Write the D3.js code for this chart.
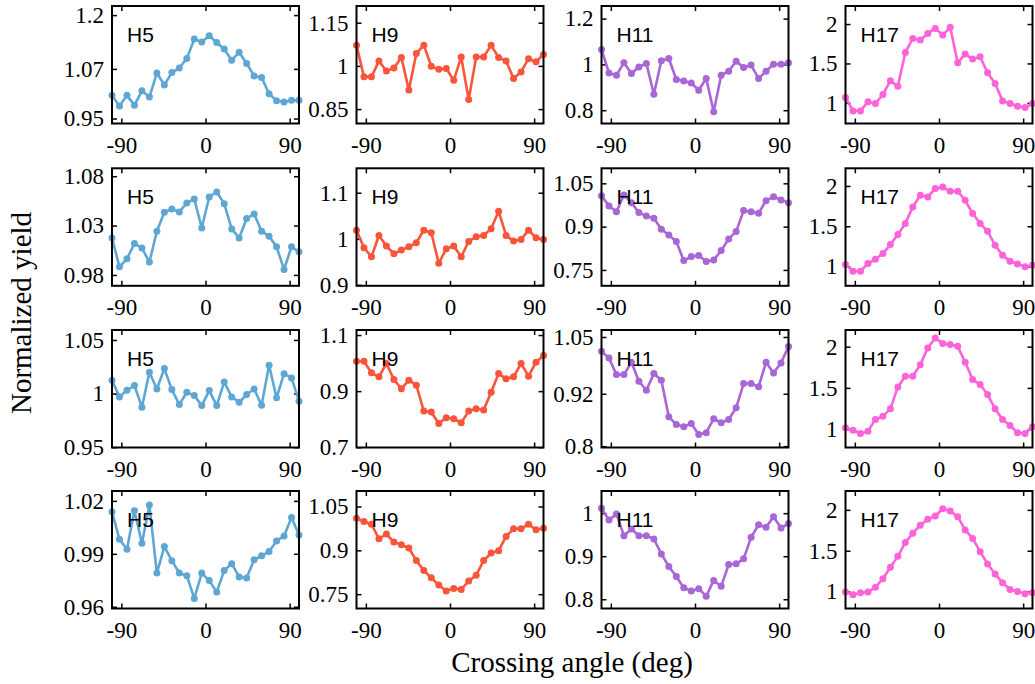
<!DOCTYPE html>
<html>
<head>
<meta charset="utf-8">
<script src="https://cdn.jsdelivr.net/npm/d3@7"></script>
<style>
  html, body { margin: 0; padding: 0; background: #fff; }
  svg { display: block; }
</style>
</head>
<body>
<svg id="chart" width="1035" height="684"></svg>
<script>
// ---------- DATA ----------
const angles = [-100,-92,-84,-76,-68,-60,-52,-44,-36,-28,-20,-12,-4,4,12,20,28,36,44,52,60,68,76,84,92,100];
const xTicks = [-90, 0, 90];
const harmonics = ["H5", "H9", "H11", "H17"];
const colors = ["#5ea7d5", "#fa553b", "#a866d6", "#ff63da"];

// Row 1
const h5_r1  = [1.006,0.980,1.006,0.982,1.017,1.002,1.060,1.031,1.061,1.072,1.095,1.142,1.135,1.150,1.134,1.118,1.091,1.110,1.083,1.053,1.049,1.010,0.993,0.990,0.994,0.994];
const h9_r1  = [1.072,0.962,0.962,1.017,0.982,0.993,1.029,0.916,1.043,1.072,0.999,0.988,0.991,0.950,1.031,0.883,1.031,1.031,1.072,1.029,1.017,0.956,0.979,1.025,1.014,1.040];
const h11_r1 = [1.065,0.963,0.953,1.007,0.960,0.989,1.004,0.870,1.016,1.026,0.934,0.928,0.919,0.887,0.939,0.793,0.953,0.970,1.014,0.987,0.997,0.939,0.970,1.001,1.001,1.007];
const h17_r1 = [1.068,0.898,0.898,1.013,0.992,1.106,1.279,1.212,1.640,1.818,1.797,1.881,1.945,1.860,1.958,1.508,1.619,1.555,1.585,1.381,1.246,1.025,0.992,0.958,0.941,0.992];
// Row 2
const h5_r2  = [1.0175,0.9882,0.9963,1.0118,1.0074,0.9930,1.0243,1.0435,1.0468,1.0438,1.0529,1.0569,1.0276,1.0590,1.0640,1.0522,1.0266,1.0175,1.0371,1.0418,1.0243,1.0192,1.0085,0.9856,1.0085,1.0034];
const h9_r2  = [1.0187,0.9806,0.9611,1.0072,0.9842,0.9676,0.9755,0.9827,0.9914,1.0187,1.0130,0.9467,0.9784,0.9842,0.9611,0.9942,1.0043,1.0072,1.0216,1.0598,1.0072,0.9950,0.9986,1.0187,1.0022,0.9986];
const h11_r2 = [1.0073,0.9715,0.9519,1.0096,0.9831,0.9485,0.9369,0.9288,0.8908,0.8712,0.8481,0.7823,0.7962,0.7996,0.7789,0.7846,0.8169,0.8573,0.8827,0.9554,0.9519,0.9462,0.9900,1.0038,0.9923,0.9831];
const h17_r2 = [1.025,0.942,0.942,1.037,1.091,1.161,1.273,1.397,1.533,1.740,1.884,1.864,1.967,1.988,1.934,1.934,1.822,1.657,1.533,1.438,1.264,1.140,1.066,1.033,0.996,1.017];
// Row 3
const h5_r3  = [1.0124,0.9969,1.0031,1.0075,0.9873,1.0199,1.0043,1.0233,1.0037,0.9897,1.0012,0.9981,0.9888,1.0028,0.9888,1.0109,0.9969,0.9919,0.9991,1.0043,0.9891,1.0264,0.9960,1.0186,1.0146,0.9929];
const h9_r3  = [1.0068,1.0068,0.9652,0.9510,0.9985,0.9415,0.9083,0.9391,0.9214,0.8288,0.8253,0.7849,0.8051,0.8015,0.7873,0.8288,0.8371,0.8324,0.8964,0.9629,0.9439,0.9510,0.9985,0.9534,1.0032,1.0269];
const h11_r3 = [1.0171,1.0021,0.9639,0.9639,0.9920,0.9486,0.9281,0.9662,0.9509,0.8673,0.8498,0.8445,0.8521,0.8270,0.8308,0.8628,0.8537,0.8612,0.8879,0.9434,0.9434,0.9358,0.9920,0.9678,0.9906,1.0285];
const h17_r3 = [1.016,0.987,0.947,0.975,1.117,1.157,1.246,1.512,1.641,1.641,1.782,1.984,2.105,2.037,2.025,2.004,1.811,1.601,1.540,1.419,1.246,1.117,1.044,0.955,0.947,1.028];
// Row 4
const h5_r4  = [1.0138,0.9982,0.9926,1.0144,0.9960,1.0176,0.9791,0.9941,0.9861,0.9791,0.9776,0.9647,0.9791,0.9748,0.9683,0.9806,0.9844,0.9769,0.9763,0.9866,0.9889,0.9913,0.9973,1.0001,1.0106,1.0007];
const h9_r4  = [1.0099,0.9985,0.9895,0.9396,0.9555,0.9283,0.9193,0.9079,0.8649,0.8309,0.8060,0.7811,0.7607,0.7698,0.7664,0.7947,0.8151,0.8649,0.8909,0.8989,0.9476,0.9736,0.9736,0.9895,0.9702,0.9759];
const h11_r4 = [1.0116,0.9839,0.9978,0.9477,0.9631,0.9477,0.9477,0.9400,0.9054,0.8761,0.8530,0.8269,0.8192,0.8246,0.8069,0.8438,0.8300,0.8808,0.8823,0.8938,0.9439,0.9731,0.9670,0.9916,0.9654,0.9762];
const h17_r4 = [0.994,0.961,0.986,0.994,1.054,1.156,1.297,1.431,1.601,1.715,1.812,1.885,1.925,2.014,1.986,1.917,1.755,1.650,1.488,1.338,1.216,1.107,1.026,1.002,0.973,0.986];

const seriesGrid = [
  [h5_r1, h9_r1, h11_r1, h17_r1],
  [h5_r2, h9_r2, h11_r2, h17_r2],
  [h5_r3, h9_r3, h11_r3, h17_r3],
  [h5_r4, h9_r4, h11_r4, h17_r4]
];

// y tick values per panel
const yTicksGrid = [
  [[0.95, 1.07, 1.2], [0.85, 1, 1.15], [0.8, 1, 1.2], [1, 1.5, 2]],
  [[0.98, 1.03, 1.08], [0.9, 1, 1.1], [0.75, 0.9, 1.05], [1, 1.5, 2]],
  [[0.95, 1, 1.05], [0.7, 0.9, 1.1], [0.8, 0.92, 1.05], [1, 1.5, 2]],
  [[0.96, 0.99, 1.02], [0.75, 0.9, 1.05], [0.8, 0.9, 1], [1, 1.5, 2]]
];
// y domains per panel
const yDomainGrid = [
  [[0.938, 1.222], [0.800, 1.208], [0.742, 1.255], [0.738, 2.229]],
  [[0.969, 1.088], [0.898, 1.153], [0.695, 1.102], [0.761, 2.219]],
  [[0.9497, 1.0593], [0.699, 1.118], [0.797, 1.066], [0.777, 2.202]],
  [[0.959, 1.0256], [0.701, 1.103], [0.7785, 1.0515], [0.793, 2.231]]
];

// ---------- LAYOUT ----------
const colLeft = [112, 356.5, 601.5, 845.5];
const rowTop = [6, 168.3, 330, 491];
const pw = 187, ph = 117.5;
const serif = "'Liberation Serif', 'Times New Roman', serif";
const sans = "'Liberation Sans', Arial, sans-serif";

const svg = d3.select("#chart");

seriesGrid.forEach((row, r) => {
  row.forEach((vals, c) => {
    const g = svg.append("g").attr("transform", `translate(${colLeft[c]},${rowTop[r]})`);
    const x = d3.scaleLinear().domain([-100, 100]).range([0, pw]);
    const y = d3.scaleLinear().domain(yDomainGrid[r][c]).range([ph, 0]);
    const ticks = yTicksGrid[r][c];

    // axes with inward ticks
    const left = g.append("g").call(d3.axisLeft(y).tickValues(ticks).tickSizeInner(-5).tickSizeOuter(0).tickPadding(8).tickFormat(d => String(d)));
    const right = g.append("g").attr("transform", `translate(${pw},0)`).call(d3.axisRight(y).tickValues(ticks).tickSizeInner(-5).tickSizeOuter(0).tickFormat(""));
    const top = g.append("g").call(d3.axisTop(x).tickValues(xTicks).tickSizeInner(-5).tickSizeOuter(0).tickFormat(""));
    const bottom = g.append("g").attr("transform", `translate(0,${ph})`).call(d3.axisBottom(x).tickValues(xTicks).tickSizeInner(-5).tickSizeOuter(0).tickPadding(13).tickFormat(d => String(d)));
    [left, right, top, bottom].forEach(a => {
      a.select(".domain").remove();
      a.selectAll(".tick line").attr("stroke", "#000").attr("stroke-width", 1.5);
      a.selectAll("text").attr("font-family", serif).attr("font-size", 23).attr("fill", "#000");
    });

    // line + markers
    const line = d3.line().x((d, i) => x(angles[i])).y(d => y(d));
    g.append("path").datum(vals).attr("d", line)
      .attr("fill", "none").attr("stroke", colors[c]).attr("stroke-width", 2.6).attr("stroke-linejoin", "round");
    g.selectAll("circle.pt").data(vals).enter().append("circle")
      .attr("class", "pt").attr("cx", (d, i) => x(angles[i])).attr("cy", d => y(d)).attr("r", 3.5)
      .attr("fill", colors[c]);

    // frame
    g.append("rect").attr("x", 0).attr("y", 0).attr("width", pw).attr("height", ph)
      .attr("fill", "none").attr("stroke", "#000").attr("stroke-width", 2);

    // harmonic label
    g.append("text").attr("x", 15).attr("y", 35.5).text(harmonics[c])
      .attr("font-family", sans).attr("font-size", 21).attr("fill", "#000");
  });
});

// axis titles
svg.append("text").attr("transform", "translate(31,313) rotate(-90)").attr("text-anchor", "middle")
  .attr("font-family", serif).attr("font-size", 29).attr("fill", "#000").text("Normalized yield");
svg.append("text").attr("x", 572).attr("y", 672).attr("text-anchor", "middle")
  .attr("font-family", serif).attr("font-size", 29).attr("fill", "#000").text("Crossing angle (deg)");
</script>
</body>
</html>
